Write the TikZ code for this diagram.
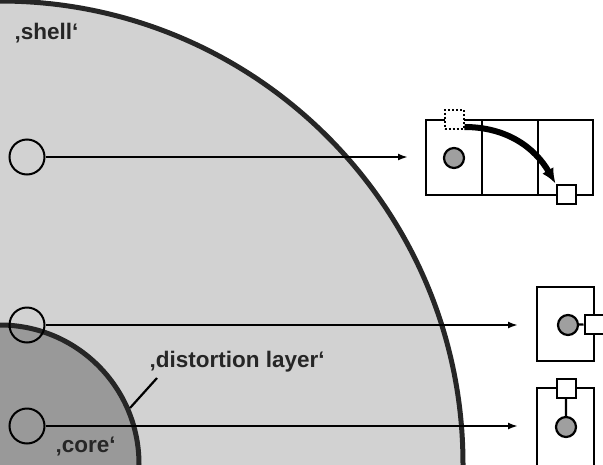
\documentclass[tikz,border=0pt]{standalone}
\usepackage{fontspec}
\setmainfont{Liberation Sans}
\usetikzlibrary{arrows,arrows.meta,positioning}

\begin{document}
\begin{tikzpicture}[x=1pt,y=-1pt,>={Latex[length=10pt,width=7pt]}]
        \tikzset{
            site/.style= {draw, circle, line width=2pt, minimum size=35pt, inner sep=0pt},
            atom/.style= {draw, circle, line width=2.2pt, fill=gray!75, minimum size=20pt, inner sep=0pt},
            vac/.style= {draw, rectangle, line width=2pt, fill=white, minimum size=19pt, inner sep=0pt},
            cell/.style= {draw, line width=2.2pt},
            lbl/.style= {font=\bfseries\fontsize{22.5}{22.5}\selectfont, text=black!85},
            link/.style= {draw, line width=2.4pt, ->},
        }
        \clip (0,0) rectangle (603,464);
        % shell and core
        \fill[gray!35] (0,464) circle (463);
        \draw[line width=5pt, black!85] (0,464) circle (463);
        \fill[gray!80] (0,464) circle (139);
        \draw[line width=5pt, black!85] (0,464) circle (139);
        % sites
        \node [site] (s_shell) at (27,157) {};
        \node [site] (s_layer) at (27,325) {};
        \node [site] (s_core) at (27,426) {};
        % cells
        \draw[cell] (426,120) rectangle (593,195);
        \draw[cell] (482,120) -- (482,195) (538,120) -- (538,195);
        \node [vac, dotted] (v_old) at (454,119) {};
        \node [atom] (a_shell) at (454,158) {};
        \node [vac] (v_new) at (566,194) {};
        \draw[cell] (537,287) rectangle (594,361);
        \node [atom] (a_layer) at (568,325) {};
        \node [vac] (v_layer) at (594,324) {};
        \draw[cell] (537,388) rectangle (594,466);
        \node [atom] (a_core) at (566,427) {};
        \node [vac] (v_core) at (566,388) {};
        \coordinate (e_shell) at (408,157);
        \coordinate (e_layer) at (518,325);
        \coordinate (e_core) at (518,426);
        % labels
        \node [lbl, anchor=west] (t_shell) at (11,33) {‚shell‘};
        \node [lbl, anchor=west] (t_layer) at (146,362) {‚distortion layer‘};
        \node [lbl, anchor=west] (t_core) at (52,446) {‚core‘};
        \coordinate (p_layer) at (130,408);
%% paths
\path[link]
    (s_shell) edge (e_shell)
    (s_layer) edge (e_layer)
    (s_core) edge (e_core)
;
\draw[line width=2.2pt] (a_layer) -- (v_layer) (a_core) -- (v_core);
\draw[line width=2.2pt] (157,378) -- (p_layer);
\draw[line width=6pt, -{Latex[length=15pt,width=13pt]}] (v_old.east) ++(0,8) to[out=0, in=120] (v_new.north west);
\end{tikzpicture}
\end{document}
